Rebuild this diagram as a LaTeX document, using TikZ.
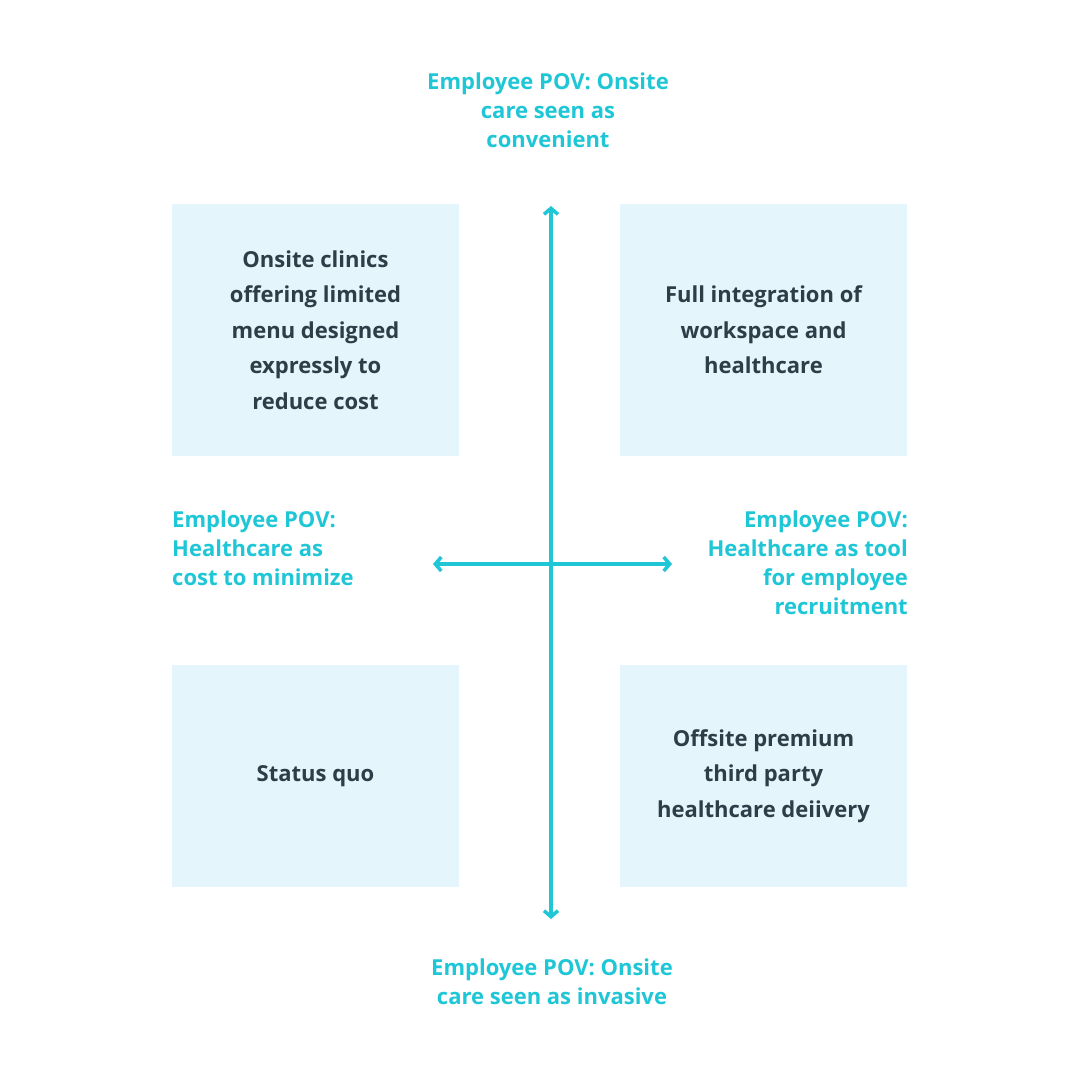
\documentclass[tikz,border=0pt]{standalone}
\usepackage{fontspec}
\setmainfont{Open Sans}
\usetikzlibrary{arrows.meta}
\definecolor{boxfill}{HTML}{E4F5FB}
\definecolor{axiscolor}{HTML}{1EC6D6}
\definecolor{textdark}{HTML}{2D3E48}
\tikzset{
  quad/.style = {fill = boxfill, minimum width = 287pt, inner sep = 0pt, align = center,
    text = textdark, font = \fontsize{22}{35.5}\selectfont\bfseries},
  axislabel/.style = {text = axiscolor, font = \fontsize{22}{29}\selectfont\bfseries, inner sep = 0pt},
  axis/.style = {{Straight Barb[length=6pt, width=14pt]}-{Straight Barb[length=6pt, width=14pt]},
    draw = axiscolor, line width = 3.5pt, line cap = round}
}
\begin{document}
\begin{tikzpicture}[x = 1pt, y = -1pt]

        \useasboundingbox (0, 0) rectangle (1080, 1080);

        % Quadrants
        \node [quad, minimum height = 252pt] (tl) at (315.5, 330) {Onsite clinics\\offering limited\\menu designed\\expressly to\\reduce cost};
        \node [quad, minimum height = 252pt] (tr) at (763.5, 330) {Full integration of\\workspace and\\healthcare};
        \node [quad, minimum height = 222pt] (bl) at (315.5, 776) {Status quo};
        \node [quad, minimum height = 222pt] (br) at (763.5, 776) {Offsite premium\\third party\\healthcare deiivery};

        % Axes
        \coordinate (top) at (551, 206);
        \coordinate (bottom) at (551, 919);
        \coordinate (left) at (433, 564);
        \coordinate (right) at (672, 564);
        \draw [axis] (top) -- (bottom);
        \draw [axis] (left) -- (right);

        % Axis labels
        \node [axislabel, align = center] (ltop) at (548, 110) {Employee POV: Onsite\\care seen as\\convenient};
        \node [axislabel, align = center] (lbottom) at (552, 982) {Employee POV: Onsite\\care seen as invasive};
        \node [axislabel, align = left, anchor = west] (lleft) at (172, 548) {Employee POV:\\Healthcare as\\cost to minimize};
        \node [axislabel, align = right, anchor = east] (lright) at (908, 563) {Employee POV:\\Healthcare as tool\\for employee\\recruitment};

    \end{tikzpicture}
\end{document}
